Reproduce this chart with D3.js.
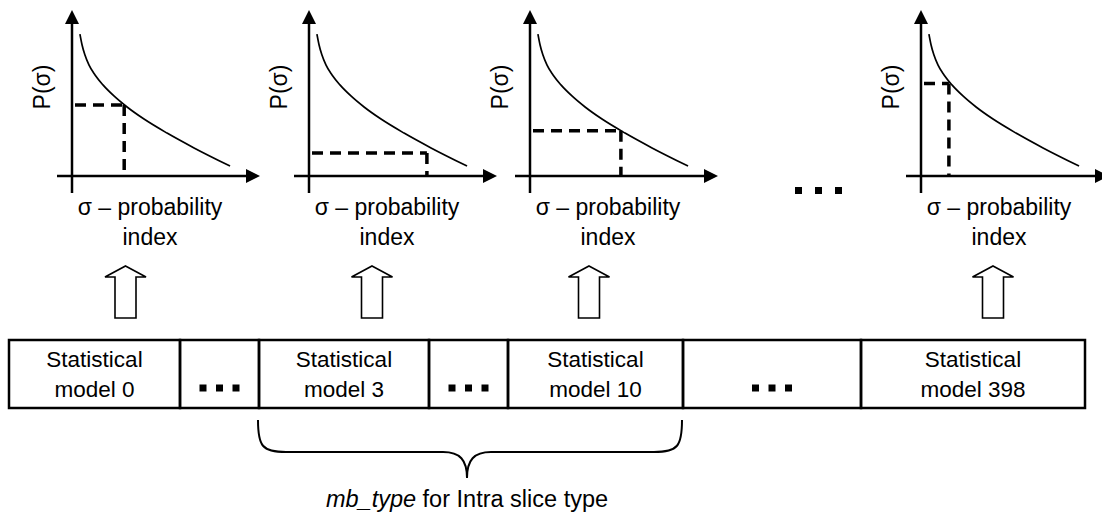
<!DOCTYPE html>
<html>
<head>
<meta charset="utf-8">
<script src="https://cdn.jsdelivr.net/npm/d3@7"></script>
<style>
  html, body { margin: 0; padding: 0; background: #fff; }
  svg { display: block; font-family: "Liberation Sans", Arial, sans-serif; }
</style>
</head>
<body>
<div id="chart"></div>
<script>
// decreasing probability curve, same for every model (sigma index vs P(sigma))
const curveSigma = [4.4, 5.6, 7.2, 9.4, 12.8, 17.2, 23.3, 30.6, 40, 52.8, 67.8, 87.8];
const curveP     = [86, 79.4, 73.3, 67.3, 61.2, 55.2, 48.5, 41.8, 34.5, 26, 17, 6];

// the picked value shown by the dashed lines in each small chart
const markerSigma = [29, 65.5, 50.5, 15.5];
const markerP     = [43, 14, 27.5, 56];

// row of statistical models
const cellLine1 = ["Statistical", "", "Statistical", "", "Statistical", "", "Statistical"];
const cellLine2 = ["model 0", "", "model 3", "", "model 10", "", "model 398"];
const cellIsGap = [false, true, false, true, false, true, false];

const xLabel1 = "σ – probability";
const xLabel2 = "index";
const yLabel = "P(σ)";
const braceLabelItalic = "mb_type";
const braceLabelRest = " for Intra slice type";

// layout
const W = 1102, H = 513;
const chartAxisX = [72, 309, 530, 921];
const arrowX = [125.5, 372, 589, 993];
const cellEdges = [9, 180, 259, 429, 508, 683, 861, 1085];
const axisY = 176, topY = 11;
const rowTop = 340, rowBottom = 408;

const svg = d3.select("#chart").append("svg")
    .attr("width", W)
    .attr("height", H);

const line = d3.line().curve(d3.curveMonotoneX);

chartAxisX.forEach((ax, i) => {
    const x = d3.scaleLinear().domain([0, 100]).range([ax, ax + 180]);
    const y = d3.scaleLinear().domain([0, 100]).range([axisY, topY]);
    const g = svg.append("g").attr("class", "mini");

    // axes with arrow heads
    g.append("line")
        .attr("x1", ax).attr("y1", axisY + 17)
        .attr("x2", ax).attr("y2", 22)
        .attr("stroke", "#000").attr("stroke-width", 2.5);
    g.append("path")
        .attr("d", `M${ax},10 L${ax - 7},24 L${ax + 7},24 Z`)
        .attr("fill", "#000");
    g.append("line")
        .attr("x1", ax - 15).attr("y1", axisY)
        .attr("x2", ax + 176).attr("y2", axisY)
        .attr("stroke", "#000").attr("stroke-width", 2.5);
    g.append("path")
        .attr("d", `M${ax + 188},${axisY} L${ax + 174},${axisY - 7} L${ax + 174},${axisY + 7} Z`)
        .attr("fill", "#000");

    // curve
    g.append("path")
        .attr("d", line(curveSigma.map((s, k) => [x(s), y(curveP[k])])))
        .attr("fill", "none")
        .attr("stroke", "#000")
        .attr("stroke-width", 1.7);

    // dashed marker
    const mx = x(markerSigma[i]), my = y(markerP[i]);
    g.append("line")
        .attr("x1", ax + 3).attr("y1", my)
        .attr("x2", mx).attr("y2", my)
        .attr("stroke", "#000").attr("stroke-width", 3.5)
        .attr("stroke-dasharray", "11,7");
    g.append("line")
        .attr("x1", mx).attr("y1", my)
        .attr("x2", mx).attr("y2", y(0))
        .attr("stroke", "#000").attr("stroke-width", 3.5)
        .attr("stroke-dasharray", "11,7");

    // labels
    g.append("text")
        .attr("transform", `translate(${ax - 22},87) rotate(-90)`)
        .attr("text-anchor", "middle")
        .attr("font-size", 23)
        .text(yLabel);
    g.append("text")
        .attr("x", ax + 78).attr("y", 215)
        .attr("text-anchor", "middle")
        .attr("font-size", 23)
        .text(xLabel1);
    g.append("text")
        .attr("x", ax + 78).attr("y", 245)
        .attr("text-anchor", "middle")
        .attr("font-size", 23)
        .text(xLabel2);
});

// "..." between third and fourth chart
function dots(cx, cy, gap) {
    svg.append("g").selectAll("rect")
        .data([-1, 0, 1])
        .join("rect")
        .attr("x", d => cx + d * gap - 3.5)
        .attr("y", cy - 3.5)
        .attr("width", 7).attr("height", 7)
        .attr("fill", "#000");
}
dots(818.5, 190.5, 20);

// hollow up arrows
arrowX.forEach(cx => {
    const hw = 20.5, sw = 10.5;
    svg.append("path")
        .attr("d", `M${cx},266 L${cx + hw},277 L${cx + sw},277 L${cx + sw},318 L${cx - sw},318 L${cx - sw},277 L${cx - hw},277 Z`)
        .attr("fill", "#fff")
        .attr("stroke", "#000")
        .attr("stroke-width", 1.6);
});

// model row
const cells = svg.append("g").attr("class", "cells");
cellLine1.forEach((t, i) => {
    const x0 = cellEdges[i], x1 = cellEdges[i + 1], cx = (x0 + x1) / 2;
    cells.append("rect")
        .attr("x", x0).attr("y", rowTop)
        .attr("width", x1 - x0).attr("height", rowBottom - rowTop)
        .attr("fill", "none")
        .attr("stroke", "#000")
        .attr("stroke-width", 2.5);
    if (cellIsGap[i]) {
        dots(cx, 388, 16.5);
    } else {
        cells.append("text")
            .attr("x", cx).attr("y", 367)
            .attr("text-anchor", "middle")
            .attr("font-size", 22.5)
            .text(t);
        cells.append("text")
            .attr("x", cx).attr("y", 397)
            .attr("text-anchor", "middle")
            .attr("font-size", 22.5)
            .text(cellLine2[i]);
    }
});

// brace under models 3..10
svg.append("path")
    .attr("d", "M258,420 C258,446 262,452 286,452 L443,452 C460,452 467,460 467,478 C467,460 474,452 491,452 L654,452 C678,452 682,446 682,420")
    .attr("fill", "none")
    .attr("stroke", "#000")
    .attr("stroke-width", 2);

const lab = svg.append("text")
    .attr("x", 467).attr("y", 507)
    .attr("text-anchor", "middle")
    .attr("font-size", 23.5);
lab.append("tspan").attr("font-style", "italic").text(braceLabelItalic);
lab.append("tspan").text(braceLabelRest);
</script>
</body>
</html>
